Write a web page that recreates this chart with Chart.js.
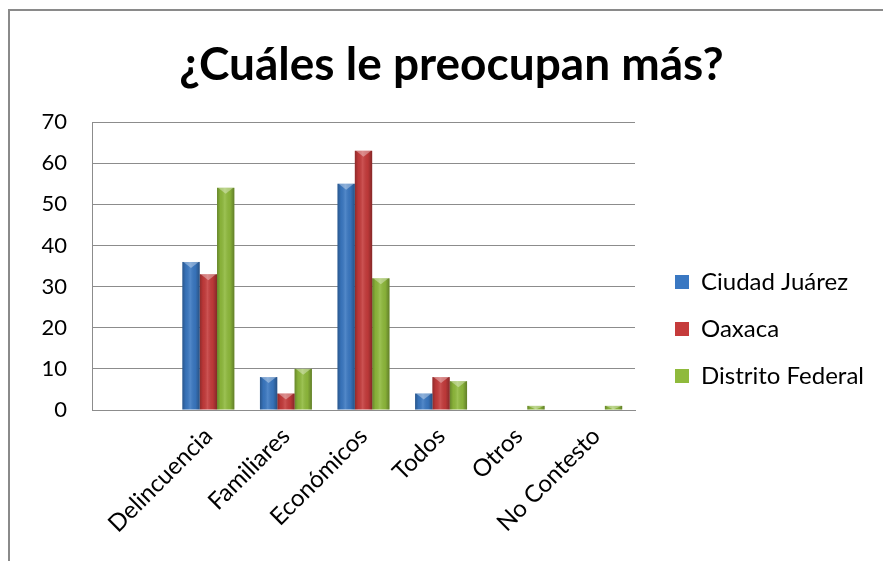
<!DOCTYPE html>
<html>
<head>
<meta charset="utf-8">
<script src="https://cdn.jsdelivr.net/npm/chart.js@4"></script>
<style>
    html, body { margin: 0; padding: 0; background: #fff; overflow: hidden; }
    #frame { position: absolute; left: 8px; top: 9px; width: 1000px; height: 1000px; border: 2px solid #8a8a8a; }
    #title { position: absolute; left: 20px; right: 0; top: 36px; text-align: center;
             font: bold 46px Lato, sans-serif; line-height: 54px; color: #000; }
    #wrap { position: absolute; left: 0; top: 0; width: 883px; height: 561px; }
</style>
</head>
<body>
<div id="frame"></div>
<div id="wrap"><canvas id="myChart" width="883" height="561"></canvas></div>
<div id="title">¿Cuáles le preocupan más?</div>
<script>
// first category is blank in the original sheet
const categories = ['', 'Delincuencia', 'Familiares', 'Económicos', 'Todos', 'Otros', 'No Contesto'];
const ciudadJuarez = [null, 36, 8, 55, 4, 0, 0];
const oaxaca = [null, 33, 4, 63, 8, 0, 0];
const distritoFederal = [null, 54, 10, 32, 7, 1, 1];
const yTicks = [0, 10, 20, 30, 40, 50, 60, 70];

const ctx = document.getElementById('myChart').getContext('2d');

// fixed legend width so the plot area lines up with the original
const legendWidth = {
    id: 'legendWidth',
    afterInit(chart) {
        const lg = chart.legend;
        if (!lg) return;
        const fit = Object.getPrototypeOf(lg).fit;
        lg.fit = function () {
            fit.call(this);
            this.width = 231;
        };
    }
};

// bevel look on the bars
const bevel = {
    id: 'bevel',
    afterDatasetsDraw(chart) {
        const c = chart.ctx;
        chart.data.datasets.forEach((ds, i) => {
            chart.getDatasetMeta(i).data.forEach(bar => {
                if (bar.skip || bar.y == null || isNaN(bar.y)) return;
                const l = bar.x - bar.width / 2, r = bar.x + bar.width / 2;
                const top = Math.min(bar.y, bar.base), bot = Math.max(bar.y, bar.base);
                if (bot - top < 0.5) return;
                const g = c.createLinearGradient(l, 0, r, 0);
                g.addColorStop(0, 'rgba(0,0,0,0.28)');
                g.addColorStop(0.2, 'rgba(0,0,0,0.05)');
                g.addColorStop(0.45, 'rgba(255,255,255,0.12)');
                g.addColorStop(0.75, 'rgba(0,0,0,0.05)');
                g.addColorStop(1, 'rgba(0,0,0,0.32)');
                c.save();
                c.fillStyle = g;
                c.fillRect(l, top, r - l, bot - top);
                const h = Math.min(6, bot - top);
                c.fillStyle = 'rgba(255,255,255,0.35)';
                c.beginPath();
                c.moveTo(l + 1, top);
                c.lineTo(r - 1, top);
                c.lineTo(bar.x, top + h);
                c.closePath();
                c.fill();
                c.restore();
            });
        });
    }
};

new Chart(ctx, {
    type: 'bar',
    data: {
        labels: categories,
        datasets: [{
            label: 'Ciudad Juárez',
            data: ciudadJuarez,
            backgroundColor: '#3a78c2'
        }, {
            label: 'Oaxaca',
            data: oaxaca,
            backgroundColor: '#c53b3b'
        }, {
            label: 'Distrito Federal',
            data: distritoFederal,
            backgroundColor: '#8fba3c'
        }]
    },
    options: {
        responsive: false,
        animation: false,
        devicePixelRatio: 1,
        layout: { padding: { left: 20, right: 0, top: 122, bottom: 25 } },
        datasets: {
            bar: { categoryPercentage: 0.67, barPercentage: 1, borderWidth: 0 }
        },
        plugins: {
            title: { display: false },
            tooltip: { enabled: false },
            legend: {
                position: 'right',
                fullSize: true,
                align: 'center',
                labels: {
                    font: { family: 'Lato', size: 24 },
                    color: '#000',
                    boxWidth: 14,
                    boxHeight: 14,
                    padding: 23
                }
            }
        },
        scales: {
            x: {
                grid: { display: false, drawTicks: false },
                border: { display: true, color: '#8c8c8c', width: 1 },
                ticks: {
                    color: '#000',
                    font: { family: 'Lato', size: 24 },
                    minRotation: 45,
                    maxRotation: 45,
                    autoSkip: false,
                    padding: 12
                },
                afterFit(s) { s.height = 126; }
            },
            y: {
                min: 0,
                max: 70,
                afterBuildTicks(s) { s.ticks = yTicks.map(v => ({ value: v })); },
                grid: { color: '#8c8c8c', drawTicks: false },
                border: { display: true, color: '#8c8c8c' },
                ticks: {
                    color: '#000',
                    font: { family: 'Lato', size: 22 },
                    padding: 25
                },
                afterFit(s) { s.width = 72; }
            },
            gap: {
                position: 'right',
                grid: { display: false, drawTicks: false },
                border: { display: false },
                ticks: { display: false },
                afterFit(s) { s.width = 17; }
            }
        }
    },
    plugins: [legendWidth, bevel]
});
</script>
</body>
</html>
